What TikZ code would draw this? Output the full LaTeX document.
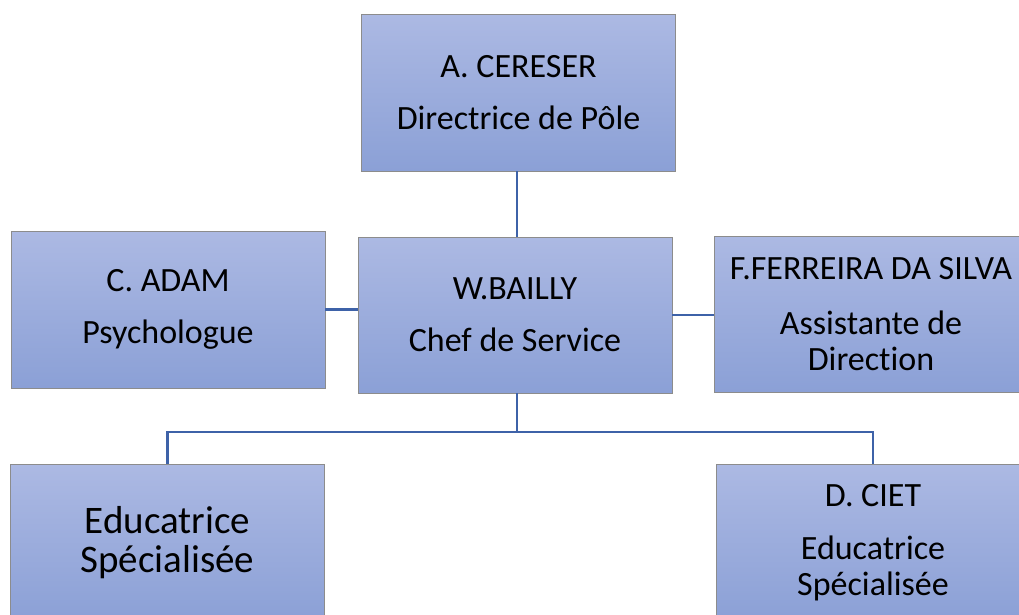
\documentclass[tikz,border=0pt]{standalone}
\usepackage{fontspec}
\setmainfont[Ligatures={NoCommon}]{Carlito}
\definecolor{boxtop}{RGB}{172,185,227}
\definecolor{boxbot}{RGB}{139,160,214}
\definecolor{boxline}{RGB}{140,140,140}
\definecolor{conn}{RGB}{62,98,168}
\begin{document}
\begin{tikzpicture}[x=1pt,y=-1pt,
  orgbox/.style={draw=boxline, line width=0.8pt, top color=boxtop, bottom color=boxbot,
    minimum width=314pt, minimum height=157pt, inner sep=0pt, align=center,
    font=\fontsize{34}{36}\selectfont, text=black},
  link/.style={draw=conn, line width=2.3pt}]
\clip (0,0) rectangle (1019,614);
\fill[white] (0,0) rectangle (1019,614);
\node[orgbox] (top) at (518.5,92.5) {A. CERESER\\[16pt]Directrice de Pôle};
\node[orgbox] (adam) at (168,309.5) {C. ADAM\\[16pt]Psychologue};
\node[orgbox, minimum height=156pt] (bailly) at (515,315) {W.BAILLY\\[16pt]Chef de Service};
\node[orgbox, minimum height=156pt] (fer) at (871,314) {F.FERREIRA DA SILVA\\[19pt]Assistante de\\Direction};
\node[orgbox, font=\fontsize{39}{39}\selectfont] (educ) at (167.5,542.5) {Educatrice\\Spécialisée};
\node[orgbox] (ciet) at (873,542.5) {D. CIET\\[17pt]Educatrice\\Spécialisée};
\coordinate (split) at (517,432);
\draw[link] (top.south -| split) -- (bailly.north -| split);
\draw[link] (adam.east) -- (adam.east -| bailly.west);
\draw[link] (bailly.east) -- (bailly.east -| fer.west);
\draw[link] (bailly.south -| split) -- (split);
\draw[link] (educ.north) |- (split) -| (ciet.north);
\end{tikzpicture}
\end{document}
